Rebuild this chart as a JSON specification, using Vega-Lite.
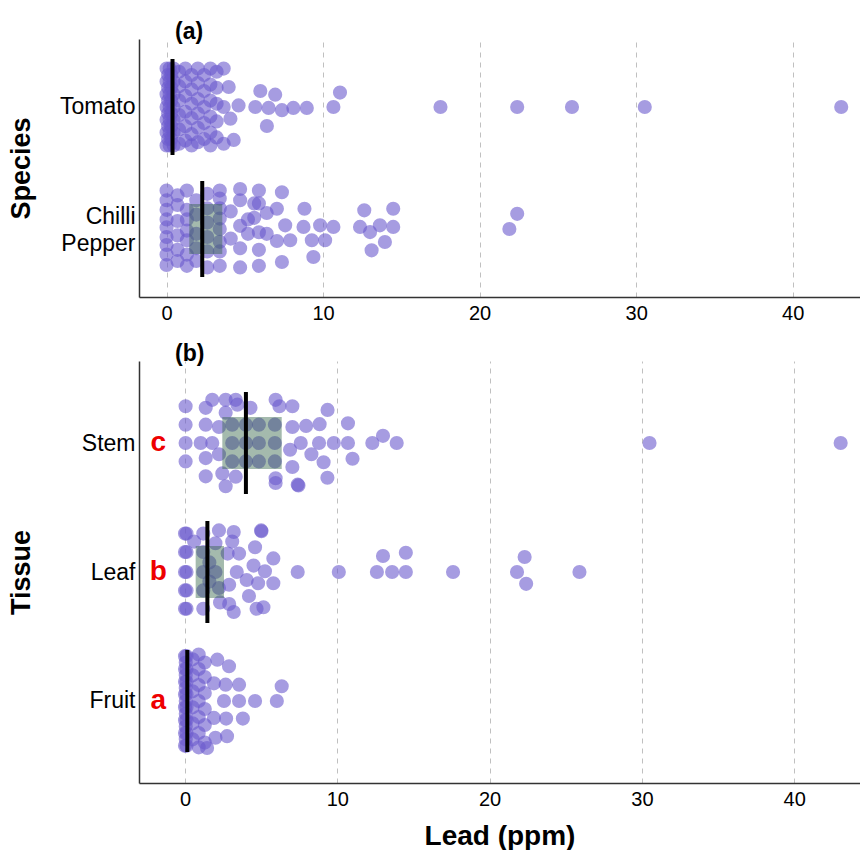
{
"$schema": "https://vega.github.io/schema/vega-lite/v6.json",
"background": "white",
"padding": {"left": 7, "top": 21, "right": 0, "bottom": 0},
"spacing": 20,
"config": {
 "font": "Liberation Sans",
 "view": {"stroke": null},
 "axis": {"labelColor": "black", "titleColor": "black", "domainColor": "#333333", "domainWidth": 1.5, "ticks": false},
 "axisX": {"grid": true, "gridDash": [5, 5], "gridColor": "#c0c0c0", "labelFontSize": 20, "labelPadding": 6, "titleFontSize": 28, "titleFontWeight": "bold", "titlePadding": 13},
 "axisY": {"grid": false, "labelFontSize": 23, "labelPadding": 4, "labelLineHeight": 27, "titleFontSize": 27, "titleFontWeight": "bold", "titleX": -104},
 "title": {"fontSize": 23, "fontWeight": "bold", "color": "black", "anchor": "start", "frame": "group", "dx": 36, "offset": -5}
},
"datasets": {
 "sp": [
  {"g":"Tomato","v":0,"k":-2.4},{"g":"Tomato","v":0,"k":-1.6},{"g":"Tomato","v":0,"k":-0.8},{"g":"Tomato","v":0,"k":0},{"g":"Tomato","v":0,"k":0.8},{"g":"Tomato","v":0,"k":1.6},{"g":"Tomato","v":0,"k":2.4},
  {"g":"Tomato","v":0.1,"k":-2},{"g":"Tomato","v":0.1,"k":-1.2},{"g":"Tomato","v":0.1,"k":-0.4},{"g":"Tomato","v":0.1,"k":0.4},{"g":"Tomato","v":0.1,"k":1.2},{"g":"Tomato","v":0.1,"k":2},
  {"g":"Tomato","v":0.2,"k":-2.4},{"g":"Tomato","v":0.2,"k":-1.6},{"g":"Tomato","v":0.2,"k":-0.8},{"g":"Tomato","v":0.2,"k":0},{"g":"Tomato","v":0.2,"k":0.8},{"g":"Tomato","v":0.2,"k":1.6},{"g":"Tomato","v":0.2,"k":2.4},
  {"g":"Tomato","v":0.3,"k":-2},{"g":"Tomato","v":0.3,"k":-1.2},{"g":"Tomato","v":0.3,"k":-0.4},{"g":"Tomato","v":0.3,"k":0.4},{"g":"Tomato","v":0.3,"k":1.2},{"g":"Tomato","v":0.3,"k":2},
  {"g":"Tomato","v":0.45,"k":-2.4},{"g":"Tomato","v":0.45,"k":-1.6},{"g":"Tomato","v":0.45,"k":-0.8},{"g":"Tomato","v":0.45,"k":0},{"g":"Tomato","v":0.45,"k":0.8},{"g":"Tomato","v":0.45,"k":1.6},{"g":"Tomato","v":0.45,"k":2.4},
  {"g":"Tomato","v":0.8,"k":-2.2},{"g":"Tomato","v":0.8,"k":-1.3},{"g":"Tomato","v":0.8,"k":-0.4},{"g":"Tomato","v":0.8,"k":0.5},{"g":"Tomato","v":0.8,"k":1.4},{"g":"Tomato","v":0.8,"k":2.3},
  {"g":"Tomato","v":1.2,"k":-2.4},{"g":"Tomato","v":1.2,"k":-1.6},{"g":"Tomato","v":1.2,"k":-0.7},{"g":"Tomato","v":1.2,"k":0.3},{"g":"Tomato","v":1.2,"k":1.2},{"g":"Tomato","v":1.2,"k":2.1},
  {"g":"Tomato","v":1.6,"k":-2},{"g":"Tomato","v":1.6,"k":-1.1},{"g":"Tomato","v":1.6,"k":-0.2},{"g":"Tomato","v":1.6,"k":0.7},{"g":"Tomato","v":1.6,"k":1.7},{"g":"Tomato","v":1.6,"k":2.4},
  {"g":"Tomato","v":2,"k":-2.4},{"g":"Tomato","v":2,"k":-1.5},{"g":"Tomato","v":2,"k":-0.5},{"g":"Tomato","v":2,"k":0.4},{"g":"Tomato","v":2,"k":1.3},{"g":"Tomato","v":2,"k":2.2},
  {"g":"Tomato","v":2.4,"k":-2},{"g":"Tomato","v":2.4,"k":-1},{"g":"Tomato","v":2.4,"k":0},{"g":"Tomato","v":2.4,"k":1},{"g":"Tomato","v":2.4,"k":2},
  {"g":"Tomato","v":2.8,"k":-2.4},{"g":"Tomato","v":2.8,"k":-1.4},{"g":"Tomato","v":2.8,"k":-0.4},{"g":"Tomato","v":2.8,"k":0.6},{"g":"Tomato","v":2.8,"k":1.6},{"g":"Tomato","v":2.8,"k":2.4},
  {"g":"Tomato","v":3.2,"k":-2.2},{"g":"Tomato","v":3.2,"k":-1.2},{"g":"Tomato","v":3.2,"k":-0.2},{"g":"Tomato","v":3.2,"k":0.9},{"g":"Tomato","v":3.2,"k":1.9},
  {"g":"Tomato","v":3.65,"k":-2.4},{"g":"Tomato","v":3.65,"k":0},{"g":"Tomato","v":3.65,"k":2.3},
  {"g":"Tomato","v":3.97,"k":-1.25},{"g":"Tomato","v":4.08,"k":0.73},{"g":"Tomato","v":4.29,"k":2.06},{"g":"Tomato","v":4.6,"k":-0.1},
  {"g":"Tomato","v":5.67,"k":0},{"g":"Tomato","v":5.99,"k":-1},{"g":"Tomato","v":6.41,"k":1.19},{"g":"Tomato","v":6.52,"k":0.06},{"g":"Tomato","v":6.94,"k":-0.77},{"g":"Tomato","v":7.37,"k":0.2},{"g":"Tomato","v":8.1,"k":0.06},{"g":"Tomato","v":8.96,"k":0.06},{"g":"Tomato","v":10.66,"k":0},{"g":"Tomato","v":11.08,"k":-0.9},
  {"g":"Tomato","v":17.5,"k":0},{"g":"Tomato","v":22.4,"k":0},{"g":"Tomato","v":25.9,"k":0},{"g":"Tomato","v":30.55,"k":0},{"g":"Tomato","v":43.1,"k":0},
  {"g":"Chilli Pepper","v":0,"k":-2.4},{"g":"Chilli Pepper","v":0,"k":-1.8},{"g":"Chilli Pepper","v":0,"k":-1.2},{"g":"Chilli Pepper","v":0,"k":-0.6},{"g":"Chilli Pepper","v":0,"k":-0.1},{"g":"Chilli Pepper","v":0,"k":0.5},{"g":"Chilli Pepper","v":0,"k":1},{"g":"Chilli Pepper","v":0,"k":1.6},{"g":"Chilli Pepper","v":0,"k":2.25},
  {"g":"Chilli Pepper","v":0.7,"k":-2.1},{"g":"Chilli Pepper","v":0.7,"k":-1.5},{"g":"Chilli Pepper","v":0.7,"k":-0.5},{"g":"Chilli Pepper","v":0.7,"k":0.4},{"g":"Chilli Pepper","v":0.7,"k":1.3},{"g":"Chilli Pepper","v":0.7,"k":2},
  {"g":"Chilli Pepper","v":1.3,"k":-2.4},{"g":"Chilli Pepper","v":1.3,"k":-1.2},{"g":"Chilli Pepper","v":1.3,"k":-0.6},{"g":"Chilli Pepper","v":1.3,"k":0.1},{"g":"Chilli Pepper","v":1.3,"k":0.7},{"g":"Chilli Pepper","v":1.3,"k":1.6},{"g":"Chilli Pepper","v":1.3,"k":2.3},
  {"g":"Chilli Pepper","v":1.9,"k":-1.8},{"g":"Chilli Pepper","v":1.9,"k":-0.9},{"g":"Chilli Pepper","v":1.9,"k":0.3},{"g":"Chilli Pepper","v":1.9,"k":1.2},{"g":"Chilli Pepper","v":1.9,"k":2},
  {"g":"Chilli Pepper","v":2.6,"k":-2.2},{"g":"Chilli Pepper","v":2.6,"k":-1.3},{"g":"Chilli Pepper","v":2.6,"k":-0.4},{"g":"Chilli Pepper","v":2.6,"k":0.5},{"g":"Chilli Pepper","v":2.6,"k":1.4},{"g":"Chilli Pepper","v":2.6,"k":2.4},
  {"g":"Chilli Pepper","v":3.4,"k":-2.4},{"g":"Chilli Pepper","v":3.4,"k":-1.9},{"g":"Chilli Pepper","v":3.4,"k":-1.3},{"g":"Chilli Pepper","v":3.4,"k":-0.65},{"g":"Chilli Pepper","v":3.4,"k":0},{"g":"Chilli Pepper","v":3.4,"k":0.8},{"g":"Chilli Pepper","v":3.4,"k":1.4},{"g":"Chilli Pepper","v":3.4,"k":2.3},
  {"g":"Chilli Pepper","v":4.1,"k":-1.1},{"g":"Chilli Pepper","v":4.1,"k":0.6},
  {"g":"Chilli Pepper","v":4.7,"k":-2.5},{"g":"Chilli Pepper","v":4.7,"k":-1.8},{"g":"Chilli Pepper","v":4.7,"k":-0.2},{"g":"Chilli Pepper","v":4.7,"k":1.2},{"g":"Chilli Pepper","v":4.7,"k":2.4},
  {"g":"Chilli Pepper","v":5.2,"k":-0.6},{"g":"Chilli Pepper","v":5.2,"k":0.3},
  {"g":"Chilli Pepper","v":5.6,"k":-1.6},{"g":"Chilli Pepper","v":5.6,"k":-0.7},
  {"g":"Chilli Pepper","v":5.9,"k":-2.4},{"g":"Chilli Pepper","v":5.9,"k":-1.6},{"g":"Chilli Pepper","v":5.9,"k":0.2},{"g":"Chilli Pepper","v":5.9,"k":1.3},{"g":"Chilli Pepper","v":5.9,"k":2.3},
  {"g":"Chilli Pepper","v":6.4,"k":-1},{"g":"Chilli Pepper","v":6.4,"k":0.3},
  {"g":"Chilli Pepper","v":7.05,"k":-1.27},{"g":"Chilli Pepper","v":7.05,"k":0.75},
  {"g":"Chilli Pepper","v":7.37,"k":-2.3},{"g":"Chilli Pepper","v":7.37,"k":2.06},{"g":"Chilli Pepper","v":7.58,"k":-0.23},{"g":"Chilli Pepper","v":7.9,"k":0.7},
  {"g":"Chilli Pepper","v":8.75,"k":-0.13},{"g":"Chilli Pepper","v":8.81,"k":-1.27},{"g":"Chilli Pepper","v":9.28,"k":0.7},{"g":"Chilli Pepper","v":9.38,"k":1.75},{"g":"Chilli Pepper","v":9.81,"k":-0.23},{"g":"Chilli Pepper","v":10.13,"k":0.7},{"g":"Chilli Pepper","v":10.66,"k":-0.13},
  {"g":"Chilli Pepper","v":12.36,"k":-0.13},{"g":"Chilli Pepper","v":12.63,"k":-1.17},{"g":"Chilli Pepper","v":13,"k":0.19},{"g":"Chilli Pepper","v":13.1,"k":1.33},{"g":"Chilli Pepper","v":13.63,"k":-0.23},{"g":"Chilli Pepper","v":13.95,"k":0.81},{"g":"Chilli Pepper","v":14.48,"k":-0.13},{"g":"Chilli Pepper","v":14.48,"k":-1.27},
  {"g":"Chilli Pepper","v":21.9,"k":0},{"g":"Chilli Pepper","v":22.4,"k":-0.95}
 ],
 "spbox": [{"g":"Chilli Pepper","q1":1.45,"q3":3.56}],
 "spmed": [{"g":"Tomato","med":0.38},{"g":"Chilli Pepper","med":2.28}],
 "ti": [
  {"g":"Stem","v":0.04,"k":-2.3},{"g":"Stem","v":0.04,"k":-1.15},{"g":"Stem","v":0.04,"k":0},{"g":"Stem","v":0.04,"k":1.15},
  {"g":"Stem","v":1.03,"k":0},
  {"g":"Stem","v":1.36,"k":-2.2},{"g":"Stem","v":1.36,"k":-1.15},{"g":"Stem","v":1.36,"k":0.94},{"g":"Stem","v":1.36,"k":2.08},
  {"g":"Stem","v":1.79,"k":-2.7},{"g":"Stem","v":1.79,"k":0},
  {"g":"Stem","v":2.23,"k":-1},{"g":"Stem","v":2.23,"k":0.7},{"g":"Stem","v":2.45,"k":1.9},
  {"g":"Stem","v":2.67,"k":-2.7},{"g":"Stem","v":2.67,"k":-1.9},{"g":"Stem","v":2.67,"k":2.7},
  {"g":"Stem","v":3.1,"k":-1.15},{"g":"Stem","v":3.1,"k":0},{"g":"Stem","v":3.1,"k":1.15},
  {"g":"Stem","v":3.33,"k":-2.7},{"g":"Stem","v":3.33,"k":2.1},{"g":"Stem","v":3.44,"k":-2.4},
  {"g":"Stem","v":4,"k":-1.15},{"g":"Stem","v":4,"k":0},{"g":"Stem","v":4,"k":1.15},{"g":"Stem","v":4.3,"k":-2.2},
  {"g":"Stem","v":4.85,"k":-1.15},{"g":"Stem","v":4.85,"k":0},{"g":"Stem","v":4.85,"k":1.15},
  {"g":"Stem","v":5.9,"k":-1.15},{"g":"Stem","v":5.9,"k":0},{"g":"Stem","v":5.9,"k":1.15},
  {"g":"Stem","v":5.95,"k":-2.7},{"g":"Stem","v":5.95,"k":2.2},{"g":"Stem","v":5.95,"k":2.5},{"g":"Stem","v":6.2,"k":-2.3},
  {"g":"Stem","v":6.9,"k":0.42},{"g":"Stem","v":7.05,"k":-2.3},{"g":"Stem","v":7.05,"k":-1},{"g":"Stem","v":7.05,"k":1.5},
  {"g":"Stem","v":7.4,"k":2.6},{"g":"Stem","v":7.45,"k":2.65},{"g":"Stem","v":7.6,"k":0},{"g":"Stem","v":7.95,"k":-1.07},{"g":"Stem","v":8.3,"k":0.7},
  {"g":"Stem","v":8.84,"k":-1.18},{"g":"Stem","v":8.8,"k":0},{"g":"Stem","v":9.1,"k":1.2},{"g":"Stem","v":9.36,"k":-2.07},{"g":"Stem","v":9.35,"k":2.17},
  {"g":"Stem","v":9.77,"k":0},{"g":"Stem","v":10.7,"k":-1.23},{"g":"Stem","v":10.7,"k":0},{"g":"Stem","v":11,"k":0.98},
  {"g":"Stem","v":12.3,"k":0},{"g":"Stem","v":13,"k":-0.45},{"g":"Stem","v":13.9,"k":0},{"g":"Stem","v":30.5,"k":0},{"g":"Stem","v":43.05,"k":0},
  {"g":"Leaf","v":0,"k":-2.4},{"g":"Leaf","v":0,"k":-1.25},{"g":"Leaf","v":0,"k":0},{"g":"Leaf","v":0,"k":1.15},{"g":"Leaf","v":0,"k":2.3},
  {"g":"Leaf","v":0.1,"k":-2.4},{"g":"Leaf","v":0.1,"k":-1.25},{"g":"Leaf","v":0.1,"k":0},{"g":"Leaf","v":0.1,"k":1.15},{"g":"Leaf","v":0.1,"k":2.3},
  {"g":"Leaf","v":0.6,"k":-1.9},
  {"g":"Leaf","v":1.2,"k":-2.4},{"g":"Leaf","v":1.2,"k":-1.25},{"g":"Leaf","v":1.2,"k":0},{"g":"Leaf","v":1.2,"k":1.15},{"g":"Leaf","v":1.2,"k":2.3},
  {"g":"Leaf","v":1.6,"k":-0.6},{"g":"Leaf","v":1.6,"k":0.6},
  {"g":"Leaf","v":2,"k":-1.8},{"g":"Leaf","v":2,"k":0},{"g":"Leaf","v":2.23,"k":-2.6},{"g":"Leaf","v":2.23,"k":1},{"g":"Leaf","v":2.3,"k":1.9},
  {"g":"Leaf","v":2.8,"k":-1.15},{"g":"Leaf","v":2.9,"k":0.8},{"g":"Leaf","v":2.9,"k":2},{"g":"Leaf","v":3.1,"k":-1.9},{"g":"Leaf","v":3.2,"k":-2.5},{"g":"Leaf","v":3.2,"k":2.5},
  {"g":"Leaf","v":3.4,"k":0},{"g":"Leaf","v":3.55,"k":-1.15},{"g":"Leaf","v":4.05,"k":0.5},{"g":"Leaf","v":4.2,"k":1.5},{"g":"Leaf","v":4.5,"k":-0.4},{"g":"Leaf","v":4.6,"k":-1.55},
  {"g":"Leaf","v":4.7,"k":2.3},{"g":"Leaf","v":4.8,"k":0.7},{"g":"Leaf","v":5,"k":-2.6},{"g":"Leaf","v":5.02,"k":-2.55},{"g":"Leaf","v":5.15,"k":2.2},{"g":"Leaf","v":5.25,"k":-0.05},
  {"g":"Leaf","v":5.8,"k":-0.85},{"g":"Leaf","v":5.8,"k":0.7},
  {"g":"Leaf","v":7.4,"k":0},{"g":"Leaf","v":10.1,"k":0},{"g":"Leaf","v":12.6,"k":0},{"g":"Leaf","v":13,"k":-1},{"g":"Leaf","v":13.6,"k":0},{"g":"Leaf","v":14.5,"k":0},{"g":"Leaf","v":14.5,"k":-1.2},
  {"g":"Leaf","v":17.6,"k":0},{"g":"Leaf","v":21.8,"k":0},{"g":"Leaf","v":22.3,"k":-0.94},{"g":"Leaf","v":22.4,"k":0.74},{"g":"Leaf","v":25.9,"k":0},
  {"g":"Fruit","v":0,"k":-2.8},{"g":"Fruit","v":0,"k":-2},{"g":"Fruit","v":0,"k":-1.2},{"g":"Fruit","v":0,"k":-0.4},{"g":"Fruit","v":0,"k":0.4},{"g":"Fruit","v":0,"k":1.2},{"g":"Fruit","v":0,"k":2},{"g":"Fruit","v":0,"k":2.8},
  {"g":"Fruit","v":0.05,"k":-2.4},{"g":"Fruit","v":0.05,"k":-1.6},{"g":"Fruit","v":0.05,"k":-0.8},{"g":"Fruit","v":0.05,"k":0},{"g":"Fruit","v":0.05,"k":0.8},{"g":"Fruit","v":0.05,"k":1.6},{"g":"Fruit","v":0.05,"k":2.4},
  {"g":"Fruit","v":0.1,"k":-2.8},{"g":"Fruit","v":0.1,"k":-2},{"g":"Fruit","v":0.1,"k":-1.2},{"g":"Fruit","v":0.1,"k":-0.4},{"g":"Fruit","v":0.1,"k":0.4},{"g":"Fruit","v":0.1,"k":1.2},{"g":"Fruit","v":0.1,"k":2},{"g":"Fruit","v":0.1,"k":2.8},
  {"g":"Fruit","v":0.5,"k":-2.6},{"g":"Fruit","v":0.5,"k":-1.6},{"g":"Fruit","v":0.5,"k":-0.6},{"g":"Fruit","v":0.5,"k":0.4},{"g":"Fruit","v":0.5,"k":1.4},{"g":"Fruit","v":0.5,"k":2.4},
  {"g":"Fruit","v":0.9,"k":-2.9},{"g":"Fruit","v":0.9,"k":-2},{"g":"Fruit","v":0.9,"k":-1},{"g":"Fruit","v":0.9,"k":0},{"g":"Fruit","v":0.9,"k":1},{"g":"Fruit","v":0.9,"k":2},{"g":"Fruit","v":0.9,"k":2.9},
  {"g":"Fruit","v":1.3,"k":-2.4},{"g":"Fruit","v":1.3,"k":-1.5},{"g":"Fruit","v":1.3,"k":-0.5},{"g":"Fruit","v":1.3,"k":0.5},{"g":"Fruit","v":1.3,"k":1.5},{"g":"Fruit","v":1.3,"k":2.6},
  {"g":"Fruit","v":1.45,"k":2.94},{"g":"Fruit","v":1.9,"k":-1.1},{"g":"Fruit","v":1.9,"k":1.06},{"g":"Fruit","v":2,"k":2.3},{"g":"Fruit","v":2.12,"k":-2.58},
  {"g":"Fruit","v":2.56,"k":0},{"g":"Fruit","v":2.67,"k":-1.02},{"g":"Fruit","v":2.7,"k":1.1},{"g":"Fruit","v":2.76,"k":2.2},{"g":"Fruit","v":2.89,"k":-2.17},
  {"g":"Fruit","v":3.55,"k":-1.02},{"g":"Fruit","v":3.55,"k":0},{"g":"Fruit","v":3.8,"k":1.1},{"g":"Fruit","v":4.6,"k":0},{"g":"Fruit","v":6.03,"k":0},{"g":"Fruit","v":6.35,"k":-0.92}
 ],
 "tibox": [{"g":"Stem","q1":2.45,"q3":6.35},{"g":"Leaf","q1":0.7,"q3":2.56}],
 "timed": [{"g":"Stem","med":4.0},{"g":"Leaf","med":1.47},{"g":"Fruit","med":0.15}],
 "letters": [{"g":"Stem","L":"c"},{"g":"Leaf","L":"b"},{"g":"Fruit","L":"a"}]
},
"vconcat": [
 {
  "width": 721, "height": 258,
  "title": {"text": "(a)"},
  "encoding": {
   "x": {"type": "quantitative", "scale": {"domain": [-1.76, 44.3], "nice": false, "zero": false}, "axis": {"title": null, "values": [0, 10, 20, 30, 40]}},
   "y": {"field": "g", "type": "nominal", "scale": {"type": "point", "domain": ["Tomato", "Chilli Pepper"], "padding": 0.557}, "axis": {"title": "Species", "labelExpr": "datum.value == 'Chilli Pepper' ? ['Chilli', 'Pepper'] : datum.value", "labelOffset": {"condition": {"test": "datum.value == 'Chilli Pepper'", "value": -13}, "value": 0}}}
  },
  "layer": [
   {
    "data": {"name": "sp"},
    "mark": {"type": "point", "filled": true, "shape": "circle", "size": 200, "color": "#6A5ACD", "opacity": 0.6},
    "encoding": {
     "x": {"field": "v"},
     "yOffset": {"field": "k", "type": "quantitative", "scale": {"domain": [-4, 4], "range": [-64, 64]}}
    }
   },
   {
    "data": {"name": "spbox"},
    "mark": {"type": "bar", "size": 50, "color": "#35664a", "opacity": 0.45},
    "encoding": {"x": {"field": "q1"}, "x2": {"field": "q3"}}
   },
   {
    "data": {"name": "spmed"},
    "mark": {"type": "tick", "thickness": 4, "size": 96, "color": "black", "opacity": 1},
    "encoding": {"x": {"field": "med"}}
   }
  ]
 },
 {
  "width": 721, "height": 422,
  "title": {"text": "(b)"},
  "encoding": {
   "x": {"type": "quantitative", "scale": {"domain": [-3.02, 44.32], "nice": false, "zero": false}, "axis": {"title": "Lead (ppm)", "values": [0, 10, 20, 30, 40]}},
   "y": {"field": "g", "type": "nominal", "scale": {"type": "point", "domain": ["Stem", "Leaf", "Fruit"], "padding": 0.636}, "axis": {"title": "Tissue"}}
  },
  "layer": [
   {
    "data": {"name": "ti"},
    "mark": {"type": "point", "filled": true, "shape": "circle", "size": 200, "color": "#6A5ACD", "opacity": 0.6},
    "encoding": {
     "x": {"field": "v"},
     "yOffset": {"field": "k", "type": "quantitative", "scale": {"domain": [-4, 4], "range": [-64, 64]}}
    }
   },
   {
    "data": {"name": "tibox"},
    "mark": {"type": "bar", "size": 52, "color": "#35664a", "opacity": 0.45},
    "encoding": {"x": {"field": "q1"}, "x2": {"field": "q3"}}
   },
   {
    "data": {"name": "timed"},
    "mark": {"type": "tick", "thickness": 4, "size": 102, "color": "black", "opacity": 1},
    "encoding": {"x": {"field": "med"}}
   },
   {
    "data": {"name": "letters"},
    "mark": {"type": "text", "color": "#ee0000", "fontSize": 28, "fontWeight": "bold", "align": "center", "baseline": "middle"},
    "encoding": {
     "x": {"datum": -1.75},
     "text": {"field": "L"}
    }
   }
  ]
 }
]
}
